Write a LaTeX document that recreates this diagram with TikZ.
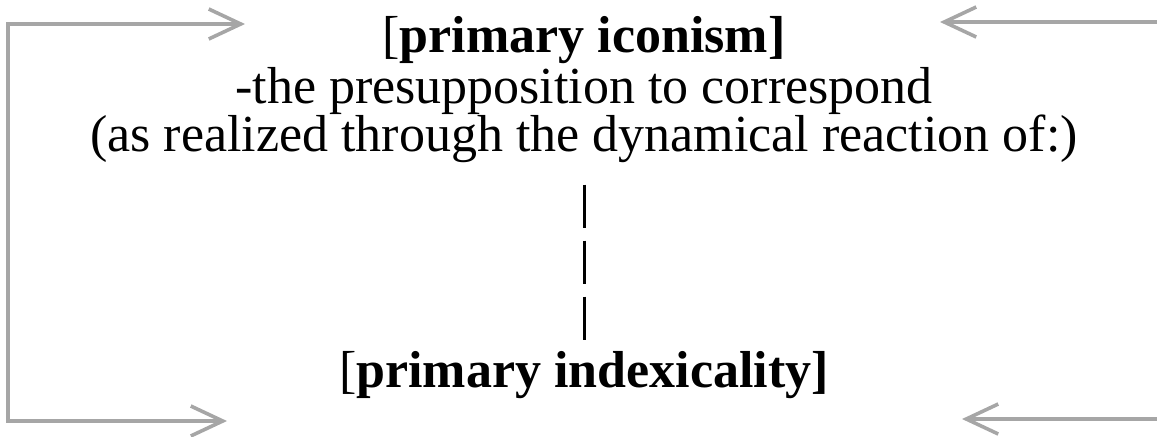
\documentclass[tikz,border=0pt]{standalone}
\usepackage{fontspec}
\setmainfont{Liberation Serif}
\usepackage{tikz}
\usetikzlibrary{positioning, calc}
\usetikzlibrary{arrows.meta}
\definecolor{framegray}{RGB}{166,166,166}
\tikzstyle{textline}=[inner sep=0pt, anchor=base, font=\fontsize{26pt}{30pt}\selectfont]
\tikzstyle{looppath} = [{Straight Barb[length=16pt,width=15pt]}-{Straight Barb[length=16pt,width=15pt]}, draw=framegray, line width=1.8pt]
\tikzstyle{backpath} = [-{Straight Barb[length=16pt,width=15pt]}, draw=framegray, line width=1.8pt]
\tikzstyle{dashpath} = [draw=black, line width=1.5pt, dash pattern=on 21.5pt off 6.5pt]

\begin{document}
\begin{tikzpicture}[x=0.5pt,y=-0.5pt]
        \useasboundingbox (0,0) rectangle (1157,436);

        \node[textline] (iconism) at (584,52) {[\textbf{primary iconism]}};
        \node[textline, below=25.5pt of iconism.base, anchor=base] (presup) {-the presupposition to correspond};
        \node[textline, below=24pt of presup.base, anchor=base] (reaction) {(as realized through the dynamical reaction of:)};
        \node[textline, below=118pt of reaction.base, anchor=base] (indexical) {[\textbf{primary indexicality]}};

        % arrow ends of the loop
        \coordinate (topleft) at (245,24);
        \coordinate (botleft) at (227,421);
        \coordinate (topright) at (940,22);
        \coordinate (botright) at (962,419);
        \coordinate (topedge) at (1157,22);
        \coordinate (botedge) at (1157,419);

        \draw[looppath] (topleft) -- (8,24) -- (8,421) -- (botleft);
        \draw[backpath] (topedge) -- (topright);
        \draw[backpath] (botedge) -- (botright);

        \path[dashpath]
            (reaction.south) edge [shorten <=11pt, shorten >=5.5pt] (indexical.north);
    \end{tikzpicture}
\end{document}
